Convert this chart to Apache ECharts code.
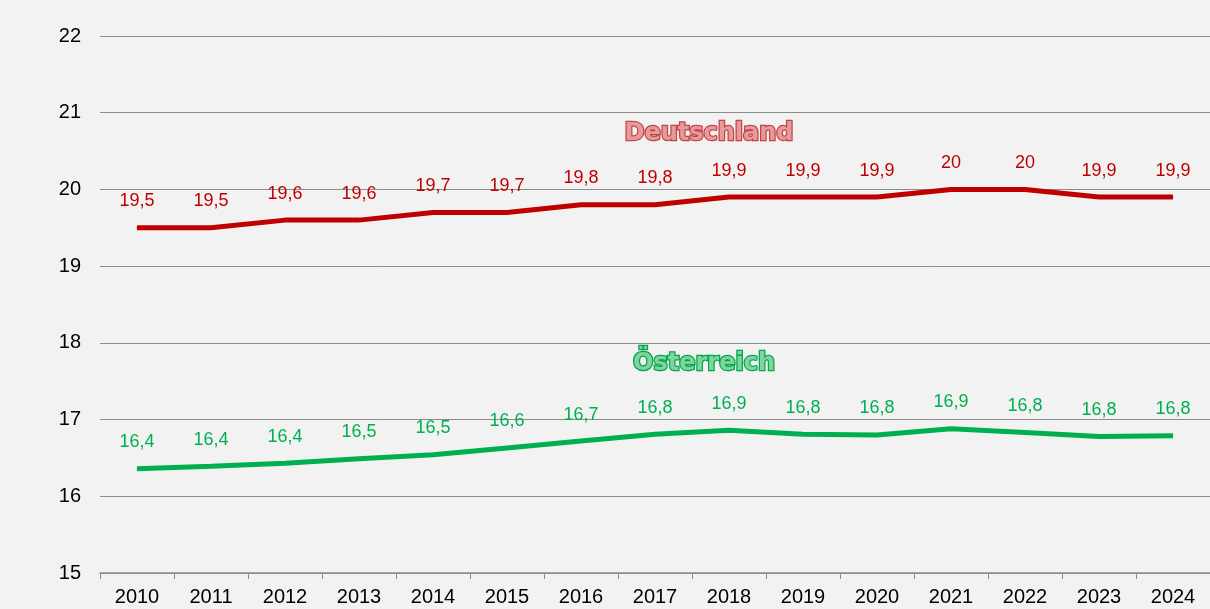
<!DOCTYPE html>
<html>
<head>
<meta charset="utf-8">
<script src="https://cdn.jsdelivr.net/npm/echarts@6/dist/echarts.min.js"></script>
<style>
  html, body { margin: 0; padding: 0; background: #f2f2f2; }
  #mainChart { width: 1210px; height: 609px; }
</style>
</head>
<body>
<div id="mainChart"></div>
<script>
var years = ['2010', '2011', '2012', '2013', '2014', '2015', '2016', '2017', '2018', '2019', '2020', '2021', '2022', '2023', '2024'];
var deutschland = [19.5, 19.5, 19.6, 19.6, 19.7, 19.7, 19.8, 19.8, 19.9, 19.9, 19.9, 20, 20, 19.9, 19.9];
var oesterreich = [16.36, 16.39, 16.43, 16.49, 16.54, 16.63, 16.72, 16.81, 16.86, 16.81, 16.8, 16.88, 16.83, 16.78, 16.79];

function fmt(p) {
  var v = Math.round(p.value * 10) / 10;
  return String(v).replace('.', ',');
}

var myChart = echarts.init(document.getElementById('mainChart'));
myChart.setOption({
  backgroundColor: '#f2f2f2',
  animation: false,
  grid: { left: 100, top: 36, width: 1112, height: 537 },
  xAxis: {
    type: 'category',
    data: years,
    boundaryGap: true,
    axisLine: { lineStyle: { color: '#8c8c8c', width: 1.5 } },
    axisTick: { show: true, length: 6, lineStyle: { color: '#8c8c8c' } },
    axisLabel: { color: '#000', fontSize: 20, fontFamily: 'Liberation Sans', margin: 14 }
  },
  yAxis: {
    type: 'value',
    min: 15,
    max: 22,
    interval: 1,
    axisLine: { show: false },
    axisTick: { show: false },
    axisLabel: { color: '#000', fontSize: 20, fontFamily: 'Liberation Sans', margin: 19 },
    splitLine: { lineStyle: { color: '#8c8c8c', width: 1 } }
  },
  series: [
    {
      name: 'Deutschland',
      type: 'line',
      data: deutschland,
      symbol: 'circle',
      symbolSize: 1,
      showSymbol: true,
      itemStyle: { color: '#c00000' },
      lineStyle: { color: '#c00000', width: 5 },
      label: { show: true, position: 'top', distance: 17, color: '#c00000', fontSize: 18, fontFamily: 'Liberation Sans', formatter: fmt }
    },
    {
      name: 'Österreich',
      type: 'line',
      data: oesterreich,
      symbol: 'circle',
      symbolSize: 1,
      showSymbol: true,
      itemStyle: { color: '#00b050' },
      lineStyle: { color: '#00b050', width: 5 },
      label: { show: true, position: 'top', distance: 17, color: '#00b050', fontSize: 18, fontFamily: 'Liberation Sans', formatter: fmt }
    }
  ],
  graphic: [
    {
      type: 'text', x: 709, y: 134,
      style: { text: 'Deutschland', font: 'bold 24px "DejaVu Sans"', align: 'center', verticalAlign: 'middle', fill: '#e89a9a', stroke: '#c0464a', lineWidth: 2.5 }
    },
    {
      type: 'text', x: 704, y: 364,
      style: { text: 'Österreich', font: 'bold 24px "DejaVu Sans"', align: 'center', verticalAlign: 'middle', fill: '#80d4a0', stroke: '#00a84a', lineWidth: 2.5 }
    }
  ]
});
</script>
</body>
</html>
